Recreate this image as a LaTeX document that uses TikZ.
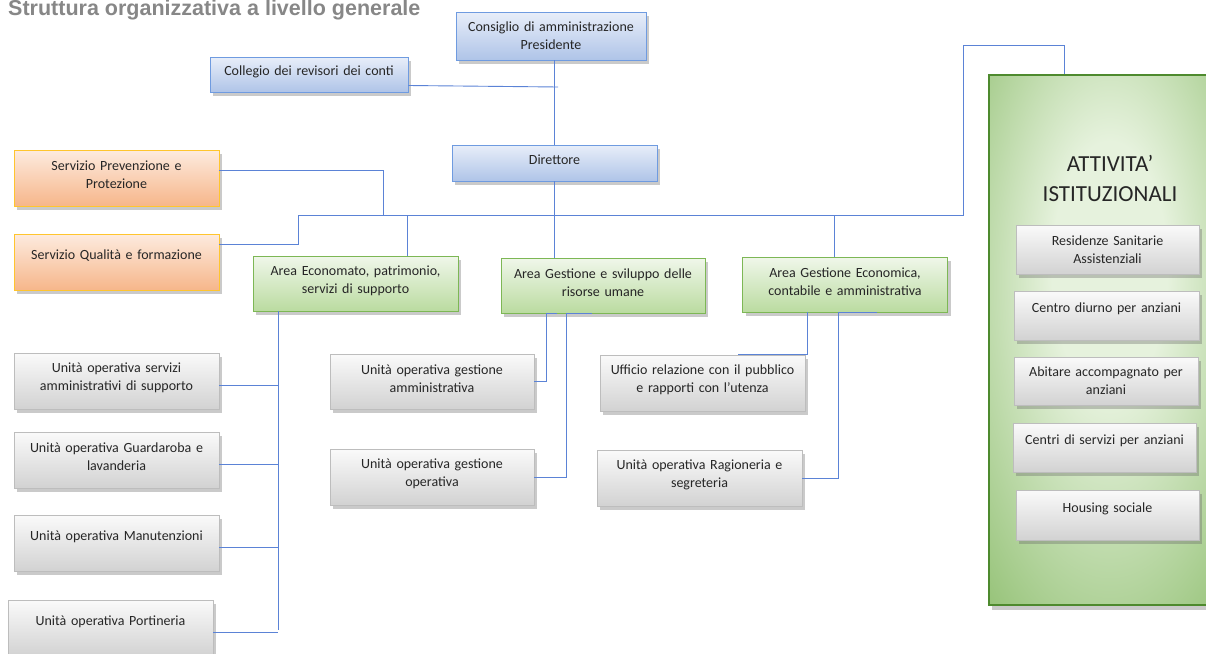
\documentclass[tikz,border=0pt]{standalone}
\usepackage{fontspec}
\setmainfont{Carlito}
\newfontfamily\titlefont{Liberation Sans}
\usetikzlibrary{shadows}

\definecolor{wireblue}{HTML}{5B83D6}
\definecolor{inktext}{HTML}{262626}
\definecolor{bluetop}{HTML}{E8EEF9}
\definecolor{bluebot}{HTML}{AFC4E8}
\definecolor{blueline}{HTML}{6F9BE0}
\definecolor{orangetop}{HTML}{FDEBDF}
\definecolor{orangebot}{HTML}{F6B68A}
\definecolor{orangeline}{HTML}{FFC52E}
\definecolor{greentop}{HTML}{F0F7EA}
\definecolor{greenbot}{HTML}{BADBA0}
\definecolor{greenline}{HTML}{7DB755}
\definecolor{graytop}{HTML}{FAFAFA}
\definecolor{graybot}{HTML}{D2D2D2}
\definecolor{grayline}{HTML}{BDBDBD}
\definecolor{panlight}{HTML}{E6F2DD}
\definecolor{pandark}{HTML}{6EAB46}
\definecolor{panline}{HTML}{4E8A2E}
\definecolor{titlegray}{HTML}{878787}

\pgfdeclareradialshading{panelshade}{\pgfpoint{0bp}{8bp}}{color(0bp)=(panlight); color(12bp)=(panlight); color(52bp)=(pandark); color(75bp)=(pandark)}

\begin{document}
\begin{tikzpicture}[x=1pt,y=-1pt]
        % styles
        \tikzstyle{box}=[draw, line width=0.8pt, inner xsep=0pt, inner ysep=0pt, text width=205pt, minimum height=56pt, align=center, text=inktext, font=\fontsize{14}{18}\selectfont, drop shadow={shadow xshift=3pt, shadow yshift=-4pt, opacity=0.35, fill=black!60}]
        \tikzstyle{one}=[execute at end node={\endgraf\kern13pt}]
        \tikzstyle{two}=[execute at end node={\endgraf\kern6pt}]
        \tikzstyle{board}=[box, top color=bluetop, bottom color=bluebot, draw=blueline]
        \tikzstyle{staff}=[box, top color=orangetop, bottom color=orangebot, draw=orangeline]
        \tikzstyle{area}=[box, top color=greentop, bottom color=greenbot, draw=greenline, minimum height=55pt]
        \tikzstyle{unit}=[box, top color=graytop, bottom color=graybot, draw=grayline]
        \tikzstyle{service}=[unit, text width=183pt, minimum height=49pt]
        \tikzstyle{wire}=[draw=wireblue, line width=0.9pt]

        \useasboundingbox (0,0) rectangle (1206,653);
        \clip (0,0) rectangle (1206,653);

        % title
        \node[anchor=base west, inner sep=0pt, text=titlegray, font=\titlefont\bfseries\fontsize{21.5}{24}\selectfont] (title) at (8,15.5) {Struttura organizzativa a livello generale};

        % panel
        \node[draw=panline, line width=1.5pt, shade, shading=panelshade, minimum width=241pt, minimum height=530pt, drop shadow={shadow xshift=3pt, shadow yshift=-5pt, opacity=0.35, fill=black!60}] (panel) at (1109.5,340) {};
        \node[align=center, text=inktext, font=\fontsize{23}{30}\selectfont] (pantitle) at (1110,178) {ATTIVITA’\\ISTITUZIONALI};

        % top
        \node[board, text width=190pt, minimum height=48pt] (cons) at (551,36) {Consiglio di amministrazione\\Presidente};
        \node[board, two, text width=198pt, minimum height=35pt] (coll) at (309,74.5) {Collegio dei revisori dei conti};
        \node[board, two, minimum height=36pt] (dir) at (554.5,163) {Direttore};

        % staff
        \node[staff, two] (spp) at (116.5,178) {Servizio Prevenzione e\\Protezione};
        \node[staff, one] (sq) at (116.5,262) {Servizio Qualità e formazione};

        % areas
        \node[area, two] (area1) at (355.5,283.5) {Area Economato, patrimonio,\\servizi di supporto};
        \node[area, two, text width=204pt] (area2) at (603,285.5) {Area Gestione e sviluppo delle\\risorse umane};
        \node[area, two] (area3) at (845,284.5) {Area Gestione Economica,\\contabile e amministrativa};

        % units
        \node[unit, two] (uo1) at (116.5,381) {Unità operativa servizi\\amministrativi di supporto};
        \node[unit, two] (uo2) at (116.5,460) {Unità operativa Guardaroba e\\lavanderia};
        \node[unit, one] (uo3) at (116.5,543) {Unità operativa Manutenzioni};
        \node[unit, one] (uo4) at (110.5,628) {Unità operativa Portineria};
        \node[unit, two, text width=204pt, minimum height=55pt] (amm) at (432,381.5) {Unità operativa gestione\\amministrativa};
        \node[unit, two, text width=204pt] (op) at (432,477) {Unità operativa gestione\\operativa};
        \node[unit, two] (urp) at (702.5,383) {Ufficio relazione con il pubblico\\e rapporti con l’utenza};
        \node[unit, two] (rag) at (699.5,478) {Unità operativa Ragioneria e\\segreteria};

        % services
        \node[service] (rsa) at (1107.5,249.5) {Residenze Sanitarie\\Assistenziali};
        \node[service, one, text width=185pt] (cdiu) at (1106.5,315.5) {Centro diurno per anziani};
        \node[service, text width=184pt, minimum height=48pt] (abit) at (1106,381) {Abitare accompagnato per\\anziani};
        \node[service, one] (csa) at (1104.5,447.5) {Centri di servizi per anziani};
        \node[service, one, minimum height=50pt] (hous) at (1107.5,515) {Housing sociale};

        % bus points
        \coordinate (collend) at (558,87);
        \coordinate (busl) at (383,215);
        \coordinate (busj) at (554.5,215);
        \coordinate (qturn) at (298,215);
        \coordinate (turn) at (963,45);
        \coordinate (spine) at (278,630);

        % connectors
        \draw[wire] (dir.north) -- (dir.north |- cons.south);
        \draw[wire] ([yshift=-11pt]coll.east) -- (collend);
        \draw[wire] (dir.south) -- (dir.south |- area2.north);
        \draw[wire] ([yshift=8pt]spp.east) -| (busl) -- (busj);
        \draw[wire] ([yshift=18pt]sq.east) -| (qturn) -- (busl);
        \draw[wire] ([xshift=52pt]area1.north) -- ([xshift=52pt]area1.north |- busl);
        \draw[wire] (busj) -| (turn) -| ([xshift=-45pt]panel.north);
        \draw[wire] ([xshift=-11pt]area3.north) -- ([xshift=-11pt]area3.north |- busj);
        \draw[wire] (area1.south -| spine) -- (spine);
        \foreach \u in {uo1,uo2,uo3,uo4}
            \draw[wire] ([yshift=-4pt]\u.east) -- ([yshift=-4pt]\u.east -| spine);
        \draw[wire] (amm.east) -| ([xshift=-57pt]area2.south) -- ([xshift=-46pt]area2.south);
        \draw[wire] (op.east) -| ([xshift=-37pt]area2.south) -- ([xshift=-11pt]area2.south);
        \draw[wire] ([xshift=-38pt]area3.south) |- ([xshift=35pt]urp.north);
        \draw[wire] ([xshift=32pt]area3.south) -- ([xshift=-7pt]area3.south) |- (rag.east);
    \end{tikzpicture}
\end{document}
